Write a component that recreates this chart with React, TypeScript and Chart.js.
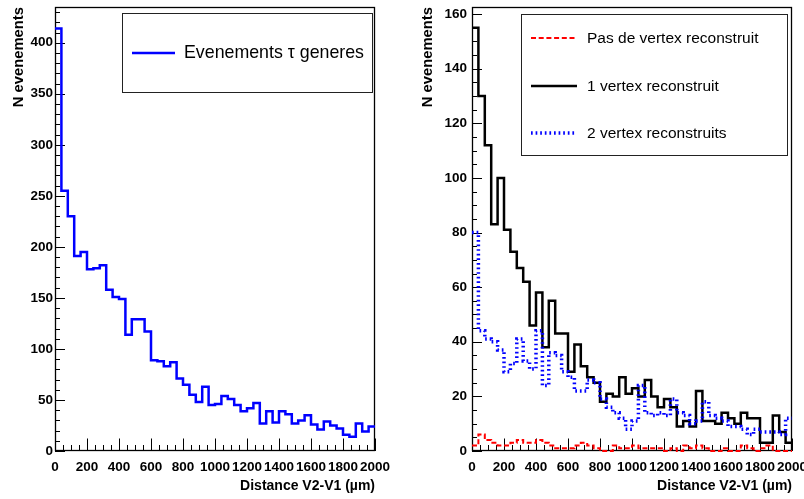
import React, { useEffect, useRef } from "react";
import { Chart, registerables } from "chart.js";

Chart.register(...registerables);

const FONT_FAMILY = '"Liberation Sans", Arial, Helvetica, sans-serif';

// ---- axes / categories ----
const BIN_WIDTH = 40; // µm per bin
const X_MIN = 0;
const X_MAX = 2000;
const X_TICKS = [0, 200, 400, 600, 800, 1000, 1200, 1400, 1600, 1800, 2000];
const LEFT_Y_TICKS = [0, 50, 100, 150, 200, 250, 300, 350, 400];
const RIGHT_Y_TICKS = [0, 20, 40, 60, 80, 100, 120, 140, 160];
const LEFT_Y_MAX = 435;
const RIGHT_Y_MAX = 162.6;

const X_TITLE = "Distance V2-V1 (µm)";
const Y_TITLE = "N evenements";

// ---- series (counts per 40 µm bin, 0..2000 µm) ----
const TAU_GENERATED = [
  414, 255, 230, 191, 195, 178, 179, 182, 158, 151,
  149, 114, 129, 129, 117, 89, 88, 83, 87, 71,
  65, 55, 48, 63, 45, 46, 54, 51, 45, 39,
  42, 47, 27, 39, 28, 39, 36, 27, 30, 35,
  26, 21, 29, 25, 22, 16, 14, 27, 19, 24,
];

const NO_VERTEX = [
  2, 6, 4, 3, 2, 2, 3, 4, 3, 3,
  4, 3, 2, 1, 1, 1, 2, 3, 2, 1,
  0, 0, 2, 1, 1, 2, 1, 1, 1, 1,
  0, 1, 0, 2, 1, 2, 1, 0, 0, 1,
  0, 0, 2, 1, 0, 1, 2, 0, 0, 0,
];

const ONE_VERTEX = [
  155, 130, 112, 83, 100, 81, 73, 67, 62, 46,
  58, 38, 55, 43, 43, 29, 39, 31, 27, 25,
  18, 21, 20, 27, 21, 23, 20, 26, 20, 16,
  19, 16, 9, 11, 9, 22, 11, 11, 10, 14,
  12, 10, 14, 12, 12, 3, 3, 13, 7, 3,
];

const TWO_VERTEX = [
  80, 44, 41, 40, 37, 29, 32, 41, 33, 30,
  44, 24, 36, 35, 29, 27, 22, 22, 26, 25,
  19, 16, 14, 12, 8, 11, 24, 14, 13, 14,
  13, 19, 14, 13, 10, 11, 18, 13, 12, 11,
  9, 9, 8, 6, 8, 7, 7, 7, 6, 12,
];

const LEFT_LABELS = ["Evenements \u03c4 generes"];
const RIGHT_LABELS = ["Pas de vertex reconstruit", "1 vertex reconstruit", "2 vertex reconstruits"];

// ---- styles ----
const BLUE = "#0000ff";
const RED = "#ff0000";
const BLACK = "#000000";
const RED_DASH = [5, 2.7];
const BLUE_DOT = [1.7, 2.9];

function histPoints(values: number[]) {
  const pts = values.map((v, i) => ({ x: X_MIN + i * BIN_WIDTH, y: v }));
  pts.push({ x: X_MIN + values.length * BIN_WIDTH, y: values[values.length - 1] });
  return pts;
}

const rootAxes = {
  id: "rootAxes",
  beforeDatasetsDraw(chart: any, _args: any, opts: any) {
    const { ctx, chartArea: a } = chart;
    const xs = chart.scales.x;
    const ys = chart.scales.y;
    ctx.save();
    ctx.strokeStyle = "#000";
    ctx.lineWidth = 1;
    ctx.setLineDash([]);
    ctx.beginPath();
    const ny = Math.floor((ys.max - ys.min) / opts.yMinor + 1e-6);
    const yRatio = Math.round(opts.yMajor / opts.yMinor);
    for (let i = 0; i <= ny; i++) {
      const v = ys.min + i * opts.yMinor;
      const py = Math.round(ys.getPixelForValue(v)) + 0.5;
      const len = i % yRatio === 0 ? 10 : 5;
      ctx.moveTo(a.left, py);
      ctx.lineTo(a.left + len, py);
    }
    const nx = Math.floor((xs.max - xs.min) / opts.xMinor + 1e-6);
    const xRatio = Math.round(opts.xMajor / opts.xMinor);
    for (let i = 0; i <= nx; i++) {
      const v = xs.min + i * opts.xMinor;
      const px = Math.round(xs.getPixelForValue(v)) + 0.5;
      const len = i % xRatio === 0 ? 12.5 : 6;
      ctx.moveTo(px, a.bottom);
      ctx.lineTo(px, a.bottom - len);
    }
    ctx.stroke();
    ctx.lineWidth = 1.3;
    ctx.strokeRect(Math.round(a.left) + 0.5, Math.round(a.top) + 0.5, Math.round(a.right - a.left) - 1, Math.round(a.bottom - a.top) - 1);
    ctx.restore();
  },
};

const rootLegend = {
  id: "rootLegend",
  afterDraw(chart: any, _args: any, opts: any) {
    const { ctx } = chart;
    const b = opts.box;
    ctx.save();
    ctx.fillStyle = "#fff";
    ctx.fillRect(b.left, b.top, b.right - b.left, b.bottom - b.top);
    ctx.strokeStyle = "#222";
    ctx.lineWidth = 1;
    ctx.setLineDash([]);
    ctx.strokeRect(b.left + 0.5, b.top + 0.5, b.right - b.left, b.bottom - b.top);
    ctx.font = opts.font;
    ctx.textBaseline = "middle";
    ctx.textAlign = "left";
    for (const e of opts.entries) {
      ctx.beginPath();
      ctx.setLineDash(e.dash || []);
      ctx.strokeStyle = e.color;
      ctx.lineWidth = e.width;
      ctx.lineCap = "butt";
      ctx.moveTo(opts.lineX0, e.y);
      ctx.lineTo(opts.lineX1, e.y);
      ctx.stroke();
      ctx.setLineDash([]);
      ctx.fillStyle = "#000";
      ctx.fillText(e.label, opts.textX, e.y + 0.5);
    }
    ctx.restore();
  },
};

const tickFont = { family: FONT_FAMILY, size: 13.5, weight: "bold" as const };
const xTitleFont = { family: FONT_FAMILY, size: 14, weight: "bold" as const };
const yTitleFont = { family: FONT_FAMILY, size: 14.8, weight: "bold" as const };

function makeScales(yMax: number, yTicks: number[], yWidth: number, yLabelPad: number, yTitlePad: number) {
  return {
    x: {
      type: "linear" as const,
      min: X_MIN,
      max: X_MAX,
      afterBuildTicks: (s: any) => {
        s.ticks = X_TICKS.map((value) => ({ value }));
      },
      afterFit: (s: any) => {
        s.height = 48;
        s.paddingLeft = 0;
        s.paddingRight = 0;
      },
      grid: { display: false, drawTicks: false },
      border: { display: false },
      ticks: {
        autoSkip: false,
        maxRotation: 0,
        minRotation: 0,
        padding: 8,
        color: "#000",
        font: tickFont,
        callback: (v: any) => String(v),
      },
      title: {
        display: true,
        text: X_TITLE,
        align: "end" as const,
        color: "#000",
        font: xTitleFont,
        padding: { top: 0, bottom: 4 },
      },
    },
    y: {
      type: "linear" as const,
      min: 0,
      max: yMax,
      afterBuildTicks: (s: any) => {
        s.ticks = yTicks.map((value) => ({ value }));
      },
      afterFit: (s: any) => {
        s.width = yWidth;
        s.paddingTop = 0;
        s.paddingBottom = 0;
      },
      grid: { display: false, drawTicks: false },
      border: { display: false },
      ticks: {
        padding: yLabelPad,
        color: "#000",
        font: tickFont,
        callback: (v: any) => String(v),
      },
      title: {
        display: true,
        text: Y_TITLE,
        align: "end" as const,
        color: "#000",
        font: yTitleFont,
        padding: { top: yTitlePad, bottom: 0 },
      },
    },
  };
}

const baseDataset = {
  pointRadius: 0,
  pointHoverRadius: 0,
  stepped: true as const,
  tension: 0,
  fill: false,
  borderCapStyle: "butt" as const,
  borderJoinStyle: "miter" as const,
};

export default function App() {
  const leftRef = useRef<HTMLCanvasElement | null>(null);
  const rightRef = useRef<HTMLCanvasElement | null>(null);

  useEffect(() => {
    document.body.style.margin = "0";
    const left = new Chart(leftRef.current as HTMLCanvasElement, {
      type: "line",
      data: {
        datasets: [
          {
            ...baseDataset,
            label: LEFT_LABELS[0],
            data: histPoints(TAU_GENERATED),
            borderColor: BLUE,
            borderWidth: 2.5,
          },
        ],
      },
      plugins: [rootAxes, rootLegend],
      options: {
        responsive: false,
        animation: false,
        devicePixelRatio: 1,
        parsing: false,
        normalized: true,
        layout: { padding: { left: 0, top: 7, right: 25, bottom: 0 } },
        events: [],
        plugins: {
          legend: { display: false },
          tooltip: { enabled: false },
          rootAxes: { xMinor: 50, xMajor: 200, yMinor: 10, yMajor: 50 },
          rootLegend: {
            box: { left: 122, top: 13, right: 372, bottom: 92 },
            lineX0: 132,
            lineX1: 175,
            textX: 184,
            font: `17.8px ${FONT_FAMILY}`,
            entries: [{ label: LEFT_LABELS[0], color: BLUE, width: 2.5, dash: [], y: 53 }],
          },
        } as any,
        scales: makeScales(LEFT_Y_MAX, LEFT_Y_TICKS, 55, 2, 10) as any,
      },
    } as any);

    const right = new Chart(rightRef.current as HTMLCanvasElement, {
      type: "line",
      data: {
        datasets: [
          {
            ...baseDataset,
            label: RIGHT_LABELS[2],
            data: histPoints(TWO_VERTEX),
            borderColor: BLUE,
            borderWidth: 3.5,
            borderDash: BLUE_DOT,
          },
          {
            ...baseDataset,
            label: RIGHT_LABELS[1],
            data: histPoints(ONE_VERTEX),
            borderColor: BLACK,
            borderWidth: 2.5,
          },
          {
            ...baseDataset,
            label: RIGHT_LABELS[0],
            data: histPoints(NO_VERTEX),
            borderColor: RED,
            borderWidth: 2,
            borderDash: RED_DASH,
            clip: { left: 0, top: 0, right: 0, bottom: 3 },
          },
        ],
      },
      plugins: [rootAxes, rootLegend],
      options: {
        responsive: false,
        animation: false,
        devicePixelRatio: 1,
        parsing: false,
        normalized: true,
        layout: { padding: { left: 0, top: 7, right: 12, bottom: 0 } },
        events: [],
        plugins: {
          legend: { display: false },
          tooltip: { enabled: false },
          rootAxes: { xMinor: 50, xMajor: 200, yMinor: 5, yMajor: 20 },
          rootLegend: {
            box: { left: 121, top: 14, right: 387, bottom: 155 },
            lineX0: 131,
            lineX1: 177,
            textX: 187,
            font: `15.5px ${FONT_FAMILY}`,
            entries: [
              { label: RIGHT_LABELS[0], color: RED, width: 2, dash: RED_DASH, y: 38 },
              { label: RIGHT_LABELS[1], color: BLACK, width: 2.5, dash: [], y: 86 },
              { label: RIGHT_LABELS[2], color: BLUE, width: 3.5, dash: BLUE_DOT, y: 133 },
            ],
          },
        } as any,
        scales: makeScales(RIGHT_Y_MAX, RIGHT_Y_TICKS, 72, 5, 19) as any,
      },
    } as any);

    return () => {
      left.destroy();
      right.destroy();
    };
  }, []);

  return (
    <div style={{ position: "absolute", left: 0, top: 0, width: 804, height: 499, background: "#fff", overflow: "hidden" }}>
      <canvas ref={leftRef} width={400} height={499} style={{ position: "absolute", left: 0, top: 0 }} />
      <canvas ref={rightRef} width={404} height={499} style={{ position: "absolute", left: 400, top: 0 }} />
    </div>
  );
}
